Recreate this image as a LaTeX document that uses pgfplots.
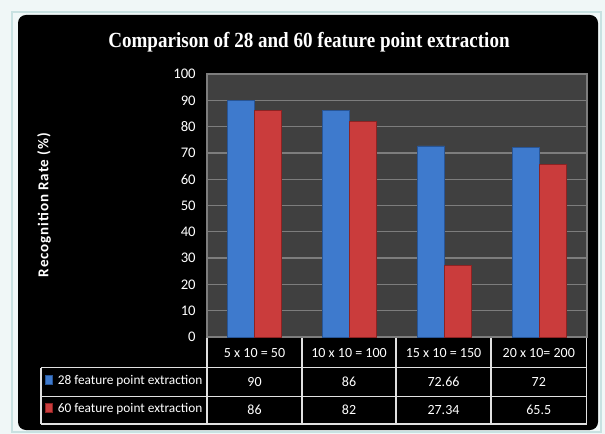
\documentclass[border=0pt]{standalone}
\usepackage{pgfplots}
\pgfplotsset{compat=1.18}
\usepackage{fontspec}
\setmainfont{Carlito}
\newfontfamily\titlefont{Liberation Serif}
\newfontfamily\labfont[LetterSpace=6]{Carlito}
\definecolor{plotbg}{RGB}{64,64,64}
\definecolor{gridc}{RGB}{125,125,125}
\definecolor{bfill}{RGB}{62,122,205}
\definecolor{bedge}{RGB}{40,85,150}
\definecolor{rfill}{RGB}{202,60,60}
\definecolor{redge}{RGB}{140,35,35}
\definecolor{framec}{RGB}{240,247,247}
\definecolor{frameline}{RGB}{200,225,225}
\definecolor{tline}{RGB}{225,225,225}
\begin{document}
\begin{tikzpicture}
\begin{scope}[x=0.75pt,y=-0.75pt]
\fill[framec] (0,0) rectangle (605,434);
\draw[frameline, line width=1pt] (12,12) rectangle (601,432);
\fill[black, rounded corners=6pt] (18,15) rectangle (598,430);
\node[white, anchor=base, inner sep=0pt] at (309,48) {\resizebox{301pt}{11.4pt}{\titlefont\bfseries Comparison of 28 and 60 feature point extraction}};
\node[white, rotate=90, inner sep=0pt] at (44,205) {\resizebox{108pt}{!}{\labfont\bfseries Recognition Rate (\%)}};
\end{scope}
\begin{axis}[
  at={(155.25pt,-252.75pt)}, anchor=south west,
  scale only axis, width=285pt, height=197.25pt,
  xmin=-0.5, xmax=3.5, ymin=0, ymax=100,
  ybar=0pt, bar width=20.25pt,
  xtick=\empty,
  ytick={0,10,...,100},
  ymajorgrids, grid style={gridc, line width=1pt},
  major tick length=0pt,
  axis line style={draw=gridc, line width=1pt},
  axis background/.style={fill=plotbg},
  yticklabel style={white, font=\fontsize{11}{13}\selectfont, xshift=-5pt},
  /pgf/number format/assume math mode=true,
  clip=false,
]
\addplot[draw=bedge, fill=bfill, line width=0.6pt] coordinates {(0,90) (1,86) (2,72.66) (3,72)};
\addplot[draw=redge, fill=rfill, line width=0.6pt] coordinates {(0,86) (1,82) (2,27.34) (3,65.5)};
\end{axis}
\begin{scope}[x=0.75pt,y=-0.75pt]
\draw[tline, line width=0.8pt] (207,337.7) -- (207,424);
\foreach \x in {302,396,491,586.5} \draw[tline, line width=0.8pt] (\x,337.7) -- (\x,424);
\draw[tline, line width=0.8pt] (41,367.7) -- (41,424);
\draw[tline, line width=0.8pt] (41,367.7) -- (586.5,367.7);
\draw[tline, line width=0.8pt] (41,396.3) -- (586.5,396.3);
\draw[tline, line width=0.8pt] (41,424) -- (586.5,424);
\begin{scope}[every node/.style={white, font=\fontsize{10.5}{12}\selectfont, inner sep=0pt}]
\node at (254.5,352.7) {5 x 10 = 50};
\node at (349,352.7) {10 x 10 = 100};
\node at (443.5,352.7) {15 x 10 = 150};
\node at (538.75,352.7) {20 x 10= 200};
\node at (254.5,382) {90};
\node at (349,382) {86};
\node at (443.5,382) {72.66};
\node at (538.75,382) {72};
\node at (254.5,410.2) {86};
\node at (349,410.2) {82};
\node at (443.5,410.2) {27.34};
\node at (538.75,410.2) {65.5};
\node[anchor=west] at (57.5,381) {\resizebox{108.5pt}{!}{28 feature point extraction}};
\node[anchor=west] at (57.5,409.2) {\resizebox{108.5pt}{!}{60 feature point extraction}};
\end{scope}
\fill[bfill, draw=bedge, line width=0.4pt] (45.5,375.5) rectangle (52.5,384);
\fill[rfill, draw=redge, line width=0.4pt] (45.5,403.5) rectangle (52.5,412);
\end{scope}
\end{tikzpicture}
\end{document}
